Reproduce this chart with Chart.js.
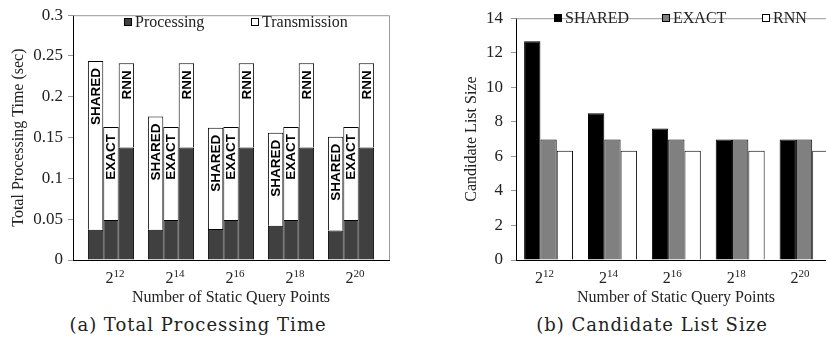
<!DOCTYPE html>
<html>
<head>
<meta charset="utf-8">
<script src="https://cdn.jsdelivr.net/npm/chart.js@4.4.1/dist/chart.umd.min.js"></script>
<style>
  html, body { margin: 0; padding: 0; background: #fff; overflow: hidden; width: 826px; height: 341px; }
  canvas { position: absolute; top: 0; }
  #timeChart { left: 0; }
  #candChart { left: 440px; }
  .caption {
    position: absolute; top: 314px; width: 330px; text-align: center;
    font-family: 'DejaVu Serif', serif; font-size: 18px; letter-spacing: 1px;
    color: #222; white-space: nowrap;
  }
</style>
</head>
<body>
<canvas id="timeChart" width="400" height="310"></canvas>
<canvas id="candChart" width="420" height="310"></canvas>
<div class="caption" style="left:33px">(a) Total Processing Time</div>
<div class="caption" style="left:487px">(b) Candidate List Size</div>
<script>
// query point counts are 2^k
const exponents = ['12', '14', '16', '18', '20'];
const methods = ['SHARED', 'EXACT', 'RNN'];

// (a) time split in seconds
const procShared = [0.037, 0.037, 0.038, 0.042, 0.036];
const procExact = [0.049, 0.049, 0.049, 0.049, 0.049];
const procRnn = [0.138, 0.138, 0.138, 0.138, 0.138];
const transShared = [0.207, 0.139, 0.124, 0.114, 0.115];
const transExact = [0.114, 0.114, 0.114, 0.114, 0.114];
const transRnn = [0.103, 0.103, 0.103, 0.103, 0.103];
const timeTicks = [0, 0.05, 0.1, 0.15, 0.2, 0.25, 0.3];

// (b) candidate list sizes
const candShared = [12.67, 8.49, 7.62, 6.97, 6.97];
const candExact = [6.97, 6.97, 6.97, 6.97, 6.97];
const candRnn = [6.32, 6.32, 6.32, 6.32, 6.32];
const candTicks = [0, 2, 4, 6, 8, 10, 12, 14];

const serif = "'Liberation Serif', 'Times New Roman', serif";
const ink = '#222';

const pts = arr => arr.map((v, i) => ({ x: i, y: v }));
// one tick per group so bar widths follow the group spacing
const groupTicks = s => { s.ticks = exponents.map((e, i) => ({ value: i })); };

// light frame on top/right, legend inside the plot, 2^k tick labels
const framePlugin = {
  id: 'frame',
  afterDraw(chart, args, opts) {
    const { ctx, chartArea: a } = chart;
    ctx.save();
    ctx.strokeStyle = '#999';
    ctx.lineWidth = 1;
    ctx.beginPath();
    ctx.moveTo(a.left, a.top + 0.5);
    ctx.lineTo(a.right + 0.5, a.top + 0.5);
    ctx.lineTo(a.right + 0.5, a.bottom);
    ctx.stroke();

    // legend
    ctx.font = '16px ' + serif;
    ctx.textBaseline = 'middle';
    ctx.textAlign = 'left';
    opts.items.forEach((it, k) => {
      const x = opts.xs[k], y = opts.y;
      ctx.fillStyle = it.color;
      ctx.fillRect(x, y - 4, 8, 8);
      ctx.strokeStyle = '#000';
      ctx.strokeRect(x + 0.5, y - 3.5, 7, 7);
      ctx.fillStyle = ink;
      ctx.fillText(it.text, x + 11, y + 1);
    });

    // x tick labels with superscript exponent
    const xs = chart.scales.x;
    exponents.forEach((e, i) => {
      ctx.font = '16px ' + serif;
      const wBase = ctx.measureText('2').width;
      ctx.font = '11px ' + serif;
      const wExp = ctx.measureText(e).width;
      const cx = xs.getPixelForValue(i) + opts.dx;
      const x0 = cx - (wBase + wExp) / 2;
      ctx.textBaseline = 'alphabetic';
      ctx.fillStyle = ink;
      ctx.font = '16px ' + serif;
      ctx.fillText('2', x0, 283);
      ctx.font = '11px ' + serif;
      ctx.fillText(e, x0 + wBase, 277);
    });
    ctx.restore();
  }
};

// method name written upward near the top of each transmission bar
const stackLabelPlugin = {
  id: 'stackLabels',
  afterDatasetsDraw(chart) {
    const { ctx } = chart;
    ctx.save();
    ctx.font = "bold 13.5px 'Liberation Sans', Arial, sans-serif";
    ctx.fillStyle = '#000';
    ctx.textAlign = 'right';
    ctx.textBaseline = 'middle';
    chart.data.datasets.forEach((ds, di) => {
      if (ds.label !== 'Transmission') return;
      chart.getDatasetMeta(di).data.forEach(bar => {
        ctx.save();
        ctx.translate(bar.x + 0.5, bar.y + 7);
        ctx.rotate(-Math.PI / 2);
        ctx.fillText(ds.stack, 0, 0);
        ctx.restore();
      });
    });
    ctx.restore();
  }
};

const procColor = '#404040';

new Chart(document.getElementById('timeChart'), {
  type: 'bar',
  data: {
    datasets: [
      { label: 'Processing', stack: methods[0], data: pts(procShared), backgroundColor: procColor },
      { label: 'Transmission', stack: methods[0], data: pts(transShared), backgroundColor: '#fff' },
      { label: 'Processing', stack: methods[1], data: pts(procExact), backgroundColor: procColor },
      { label: 'Transmission', stack: methods[1], data: pts(transExact), backgroundColor: '#fff' },
      { label: 'Processing', stack: methods[2], data: pts(procRnn), backgroundColor: procColor },
      { label: 'Transmission', stack: methods[2], data: pts(transRnn), backgroundColor: '#fff' }
    ]
  },
  options: {
    responsive: false,
    animation: false,
    categoryPercentage: 0.77,
    barPercentage: 1,
    borderColor: '#000',
    borderWidth: 1,
    layout: { padding: { top: 9, right: 11, left: 0, bottom: 0 } },
    plugins: {
      legend: { display: false },
      tooltip: { enabled: false },
      frame: {
        items: [{ text: 'Processing', color: procColor }, { text: 'Transmission', color: '#fff' }],
        xs: [124, 251], y: 22, dx: 4
      }
    },
    scales: {
      x: {
        type: 'linear', min: -0.633, max: 4.633, offset: false,
        afterBuildTicks: groupTicks,
        ticks: { display: false },
        grid: { display: false },
        border: { color: '#000' },
        afterFit: s => { s.height = 50; },
        title: { display: true, text: 'Number of Static Query Points', color: ink,
                 font: { family: serif, size: 16 }, padding: { top: 0, bottom: 2.4 } }
      },
      y: {
        stacked: true, min: 0, max: 0.3,
        afterBuildTicks: s => { s.ticks = timeTicks.map(v => ({ value: v })); },
        ticks: { color: ink, padding: 5, font: { family: serif, size: 17 },
                 callback: v => String(+v.toFixed(2)) },
        grid: { drawOnChartArea: false, tickLength: 5, color: '#999' },
        border: { color: '#000' },
        afterFit: s => { s.width = 73; },
        title: { display: true, text: 'Total Processing Time (sec)', color: ink,
                 font: { family: serif, size: 16 }, padding: { top: 9.4, bottom: 0 } }
      }
    }
  },
  plugins: [framePlugin, stackLabelPlugin]
});

new Chart(document.getElementById('candChart'), {
  type: 'bar',
  data: {
    datasets: [
      { label: methods[0], data: pts(candShared), backgroundColor: '#000' },
      { label: methods[1], data: pts(candExact), backgroundColor: '#808080' },
      { label: methods[2], data: pts(candRnn), backgroundColor: '#fff' }
    ]
  },
  options: {
    responsive: false,
    animation: false,
    categoryPercentage: 0.766,
    barPercentage: 1,
    borderColor: '#000',
    borderWidth: 1,
    layout: { padding: { top: 9, right: 24, left: 0, bottom: 0 } },
    plugins: {
      legend: { display: false },
      tooltip: { enabled: false },
      frame: {
        items: methods.map((m, k) => ({ text: m, color: ['#000', '#808080', '#fff'][k] })),
        xs: [114, 222, 322], y: 18, dx: -4
      }
    },
    scales: {
      x: {
        type: 'linear', min: -0.51, max: 4.5, offset: false,
        afterBuildTicks: groupTicks,
        ticks: { display: false },
        grid: { display: false },
        border: { color: '#000' },
        afterFit: s => { s.height = 50; },
        title: { display: true, text: 'Number of Static Query Points', color: ink,
                 font: { family: serif, size: 16 }, padding: { top: 0, bottom: 2.4 } }
      },
      y: {
        min: 0, max: 14,
        afterBuildTicks: s => { s.ticks = candTicks.map(v => ({ value: v })); },
        ticks: { color: ink, padding: 8, font: { family: serif, size: 17 } },
        grid: { drawOnChartArea: false, tickLength: 5, color: '#999' },
        border: { color: '#000' },
        afterFit: s => { s.width = 76; },
        title: { display: true, text: 'Candidate List Size', color: ink,
                 font: { family: serif, size: 16 }, padding: { top: 22.4, bottom: 0 } }
      }
    }
  },
  plugins: [framePlugin]
});
</script>
</body>
</html>
